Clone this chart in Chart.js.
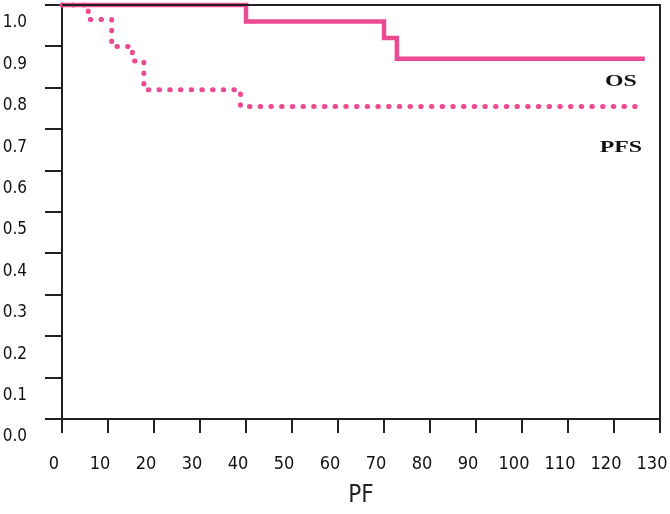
<!DOCTYPE html>
<html>
<head>
<meta charset="utf-8">
<script src="https://cdn.jsdelivr.net/npm/chart.js@4/dist/chart.umd.min.js"></script>
<style>
  html, body { margin: 0; padding: 0; background: #fff; }
  #wrap { width: 670px; height: 514px; }
</style>
</head>
<body>
<div id="wrap"><canvas id="c" width="670" height="514"></canvas></div>
<script>
// ---- data ----
const osTime  = [0, 40, 70, 72.8, 126.7];
const osSurv  = [1.0, 0.96, 0.92, 0.87, 0.87];
const pfsTime = [0, 5.7, 10.8, 15.3, 17.8, 38.8, 126.7];
const pfsSurv = [1.0, 0.965, 0.90, 0.865, 0.795, 0.755, 0.755];
const xTicks  = [0, 10, 20, 30, 40, 50, 60, 70, 80, 90, 100, 110, 120, 130];
const yTicks  = [0.0, 0.1, 0.2, 0.3, 0.4, 0.5, 0.6, 0.7, 0.8, 0.9, 1.0];
const xTitle  = 'PF';
const curveLabels = ['OS', 'PFS'];
const curveLabelX = [121.5, 121.5];
const curveLabelY = [0.814, 0.655];

const pink = '#EC4B92';
const axisColor = '#222';
const narrow = "'DejaVu Sans Condensed', 'Liberation Sans Narrow', sans-serif";

const toPts = (xs, ys) => xs.map((x, i) => ({ x: x, y: ys[i] }));

const framePlugin = {
  id: 'frame',
  afterDraw(chart) {
    const { ctx, chartArea: a } = chart;
    ctx.save();
    ctx.strokeStyle = axisColor;
    ctx.lineWidth = 2;
    ctx.beginPath();
    ctx.moveTo(a.left, a.top);
    ctx.lineTo(a.right, a.top);
    ctx.lineTo(a.right, a.bottom);
    ctx.stroke();
    // curve labels (wide bold serif)
    const xs = chart.scales.x, ys = chart.scales.y;
    ctx.fillStyle = '#111';
    ctx.font = "bold 17px 'Liberation Serif', 'DejaVu Serif', serif";
    ctx.textAlign = 'center';
    ctx.textBaseline = 'middle';
    curveLabels.forEach((t, i) => {
      const px = xs.getPixelForValue(curveLabelX[i]);
      const py = ys.getPixelForValue(curveLabelY[i]);
      ctx.save();
      ctx.translate(px, py);
      ctx.scale(1.4, 1);
      ctx.fillText(t, 0, 0);
      ctx.restore();
    });
    ctx.restore();
  }
};

new Chart(document.getElementById('c'), {
  type: 'line',
  data: {
    datasets: [
      {
        label: 'OS',
        data: toPts(osTime, osSurv),
        stepped: true,
        borderColor: pink,
        borderWidth: 4.5,
        pointRadius: 0,
        fill: false,
        clip: false
      },
      {
        label: 'PFS',
        data: toPts(pfsTime, pfsSurv),
        stepped: true,
        borderColor: pink,
        borderWidth: 5,
        borderDash: [0.5, 10.2],
        borderCapStyle: 'round',
        pointRadius: 0,
        fill: false,
        clip: false
      }
    ]
  },
  options: {
    responsive: false,
    animation: false,
    devicePixelRatio: 1,
    layout: { padding: { left: 0, right: 10, top: 5, bottom: 3 } },
    plugins: { legend: { display: false }, tooltip: { enabled: false } },
    scales: {
      x: {
        type: 'linear',
        min: 0,
        max: 130,
        afterBuildTicks(s) { s.ticks = xTicks.map(v => ({ value: v })); },
        afterFit(s) { s.height = 92; s.paddingLeft = 0; s.paddingRight = 0; },
        grid: { display: true, drawOnChartArea: false, drawTicks: true, tickLength: 14, color: axisColor, lineWidth: 2 },
        border: { display: true, color: axisColor, width: 2 },
        ticks: { color: '#111', font: { family: narrow, size: 18 }, padding: 21, maxRotation: 0, autoSkip: false, labelOffset: -8 },
        title: { display: true, text: xTitle, color: '#222', font: { family: narrow, size: 24 }, padding: { top: 0, bottom: 1 } }
      },
      y: {
        type: 'linear',
        min: 0,
        max: 1.0,
        afterBuildTicks(s) { s.ticks = yTicks.map(v => ({ value: v })); },
        afterFit(s) { s.width = 62; s.paddingTop = 0; s.paddingBottom = 0; },
        grid: { display: true, drawOnChartArea: false, drawTicks: true, tickLength: 17, color: axisColor, lineWidth: 2 },
        border: { display: true, color: axisColor, width: 2 },
        ticks: { color: '#111', font: { family: narrow, size: 17 }, padding: 18, labelOffset: 18, callback: v => v.toFixed(1) }
      }
    }
  },
  plugins: [framePlugin]
});
</script>
</body>
</html>
